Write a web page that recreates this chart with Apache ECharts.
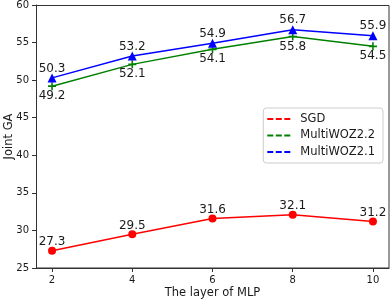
<!DOCTYPE html>
<html><head><meta charset="utf-8">
<script src="https://cdn.jsdelivr.net/npm/echarts@6/dist/echarts.min.js"></script>
<style>html,body{margin:0;padding:0;background:#fff}#c{width:391px;height:299px}</style>
</head><body><div id="c"></div>
<script>
const layers = [2, 4, 6, 8, 10];
const sgd = [27.3, 29.5, 31.6, 32.1, 31.2];
const multiwoz22 = [49.2, 52.1, 54.1, 55.8, 54.5];
const multiwoz21 = [50.3, 53.2, 54.9, 56.7, 55.9];

const FONT = 'DejaVu Sans';
const chart = echarts.init(document.getElementById('c'), null, {renderer: 'canvas'});
const pair = arr => layers.map((x, i) => [x, arr[i]]);
const dashIcon = 'path://M0,0h6v2h-6z M8.5,0h6v2h-6z M17,0h6v2h-6z';
const plus = 'path://M4,0h2v4h4v2h-4v4h-2v-4h-4v-2h4z';

function mk(name, data, color, symbol, size, labelPos, dist) {
  return {
    name, type: 'line', data: pair(data), color,
    symbol, symbolSize: size,
    lineStyle: {color, width: 1.5},
    itemStyle: {color},
    label: {show: true, position: labelPos, distance: dist, color: '#1a1a1a',
      fontFamily: FONT, fontSize: 12, formatter: p => p.value[1].toFixed(1)},
    emphasis: {disabled: true}, animation: false
  };
}

chart.setOption({
  animation: false,
  grid: {left: 36, right: 2, top: 5, bottom: 31, outerBoundsMode: 'none', containLabel: false},
  legend: {
    right: 8, top: 108, orient: 'vertical',
    backgroundColor: '#fff', borderColor: '#ccc', borderWidth: 1, borderRadius: 3,
    padding: [5, 8, 5, 4], itemGap: 4.5, itemWidth: 23, itemHeight: 2,
    textStyle: {fontFamily: FONT, fontSize: 11.5, color: '#1a1a1a', padding: [0, 0, 0, 5]},
    data: [
      {name: 'SGD', icon: dashIcon},
      {name: 'MultiWOZ2.2', icon: dashIcon},
      {name: 'MultiWOZ2.1', icon: dashIcon}
    ]
  },
  xAxis: {
    type: 'value', min: 1.6, max: 10.4,
    name: 'The layer of MLP', nameLocation: 'middle', nameGap: 19, nameMoveOverlap: false,
    nameTextStyle: {fontFamily: FONT, fontSize: 11.5, color: '#1a1a1a'},
    axisLine: {show: true, onZero: false, lineStyle: {color: '#333', width: 1}},
    axisTick: {show: true, length: 4, customValues: layers, lineStyle: {color: '#333'}},
    axisLabel: {customValues: layers, fontFamily: FONT, fontSize: 10, color: '#1a1a1a', margin: 7},
    splitLine: {show: false}
  },
  yAxis: {
    type: 'value', min: 25, max: 60, interval: 5,
    name: 'Joint GA', nameLocation: 'middle', nameGap: 21, nameRotate: 90, nameMoveOverlap: false,
    nameTextStyle: {fontFamily: FONT, fontSize: 11.5, color: '#1a1a1a'},
    axisLine: {show: true, onZero: false, lineStyle: {color: '#333', width: 1}},
    axisTick: {show: true, length: 4, lineStyle: {color: '#333'}},
    axisLabel: {fontFamily: FONT, fontSize: 10, color: '#1a1a1a', margin: 7},
    splitLine: {show: false}
  },
  series: [
    mk('SGD', sgd, '#ff0000', 'circle', 8, 'top', -1.5),
    mk('MultiWOZ2.2', multiwoz22, '#008000', plus, 8, 'bottom', 0),
    mk('MultiWOZ2.1', multiwoz21, '#0000ff', 'triangle', 9, 'top', -1)
  ],
  graphic: [{
    type: 'rect', shape: {x: 36.5, y: 5.5, width: 352.5, height: 262.5},
    style: {fill: 'none', stroke: '#333', lineWidth: 1}, silent: true, z: 10
  }]
});
</script></body></html>
